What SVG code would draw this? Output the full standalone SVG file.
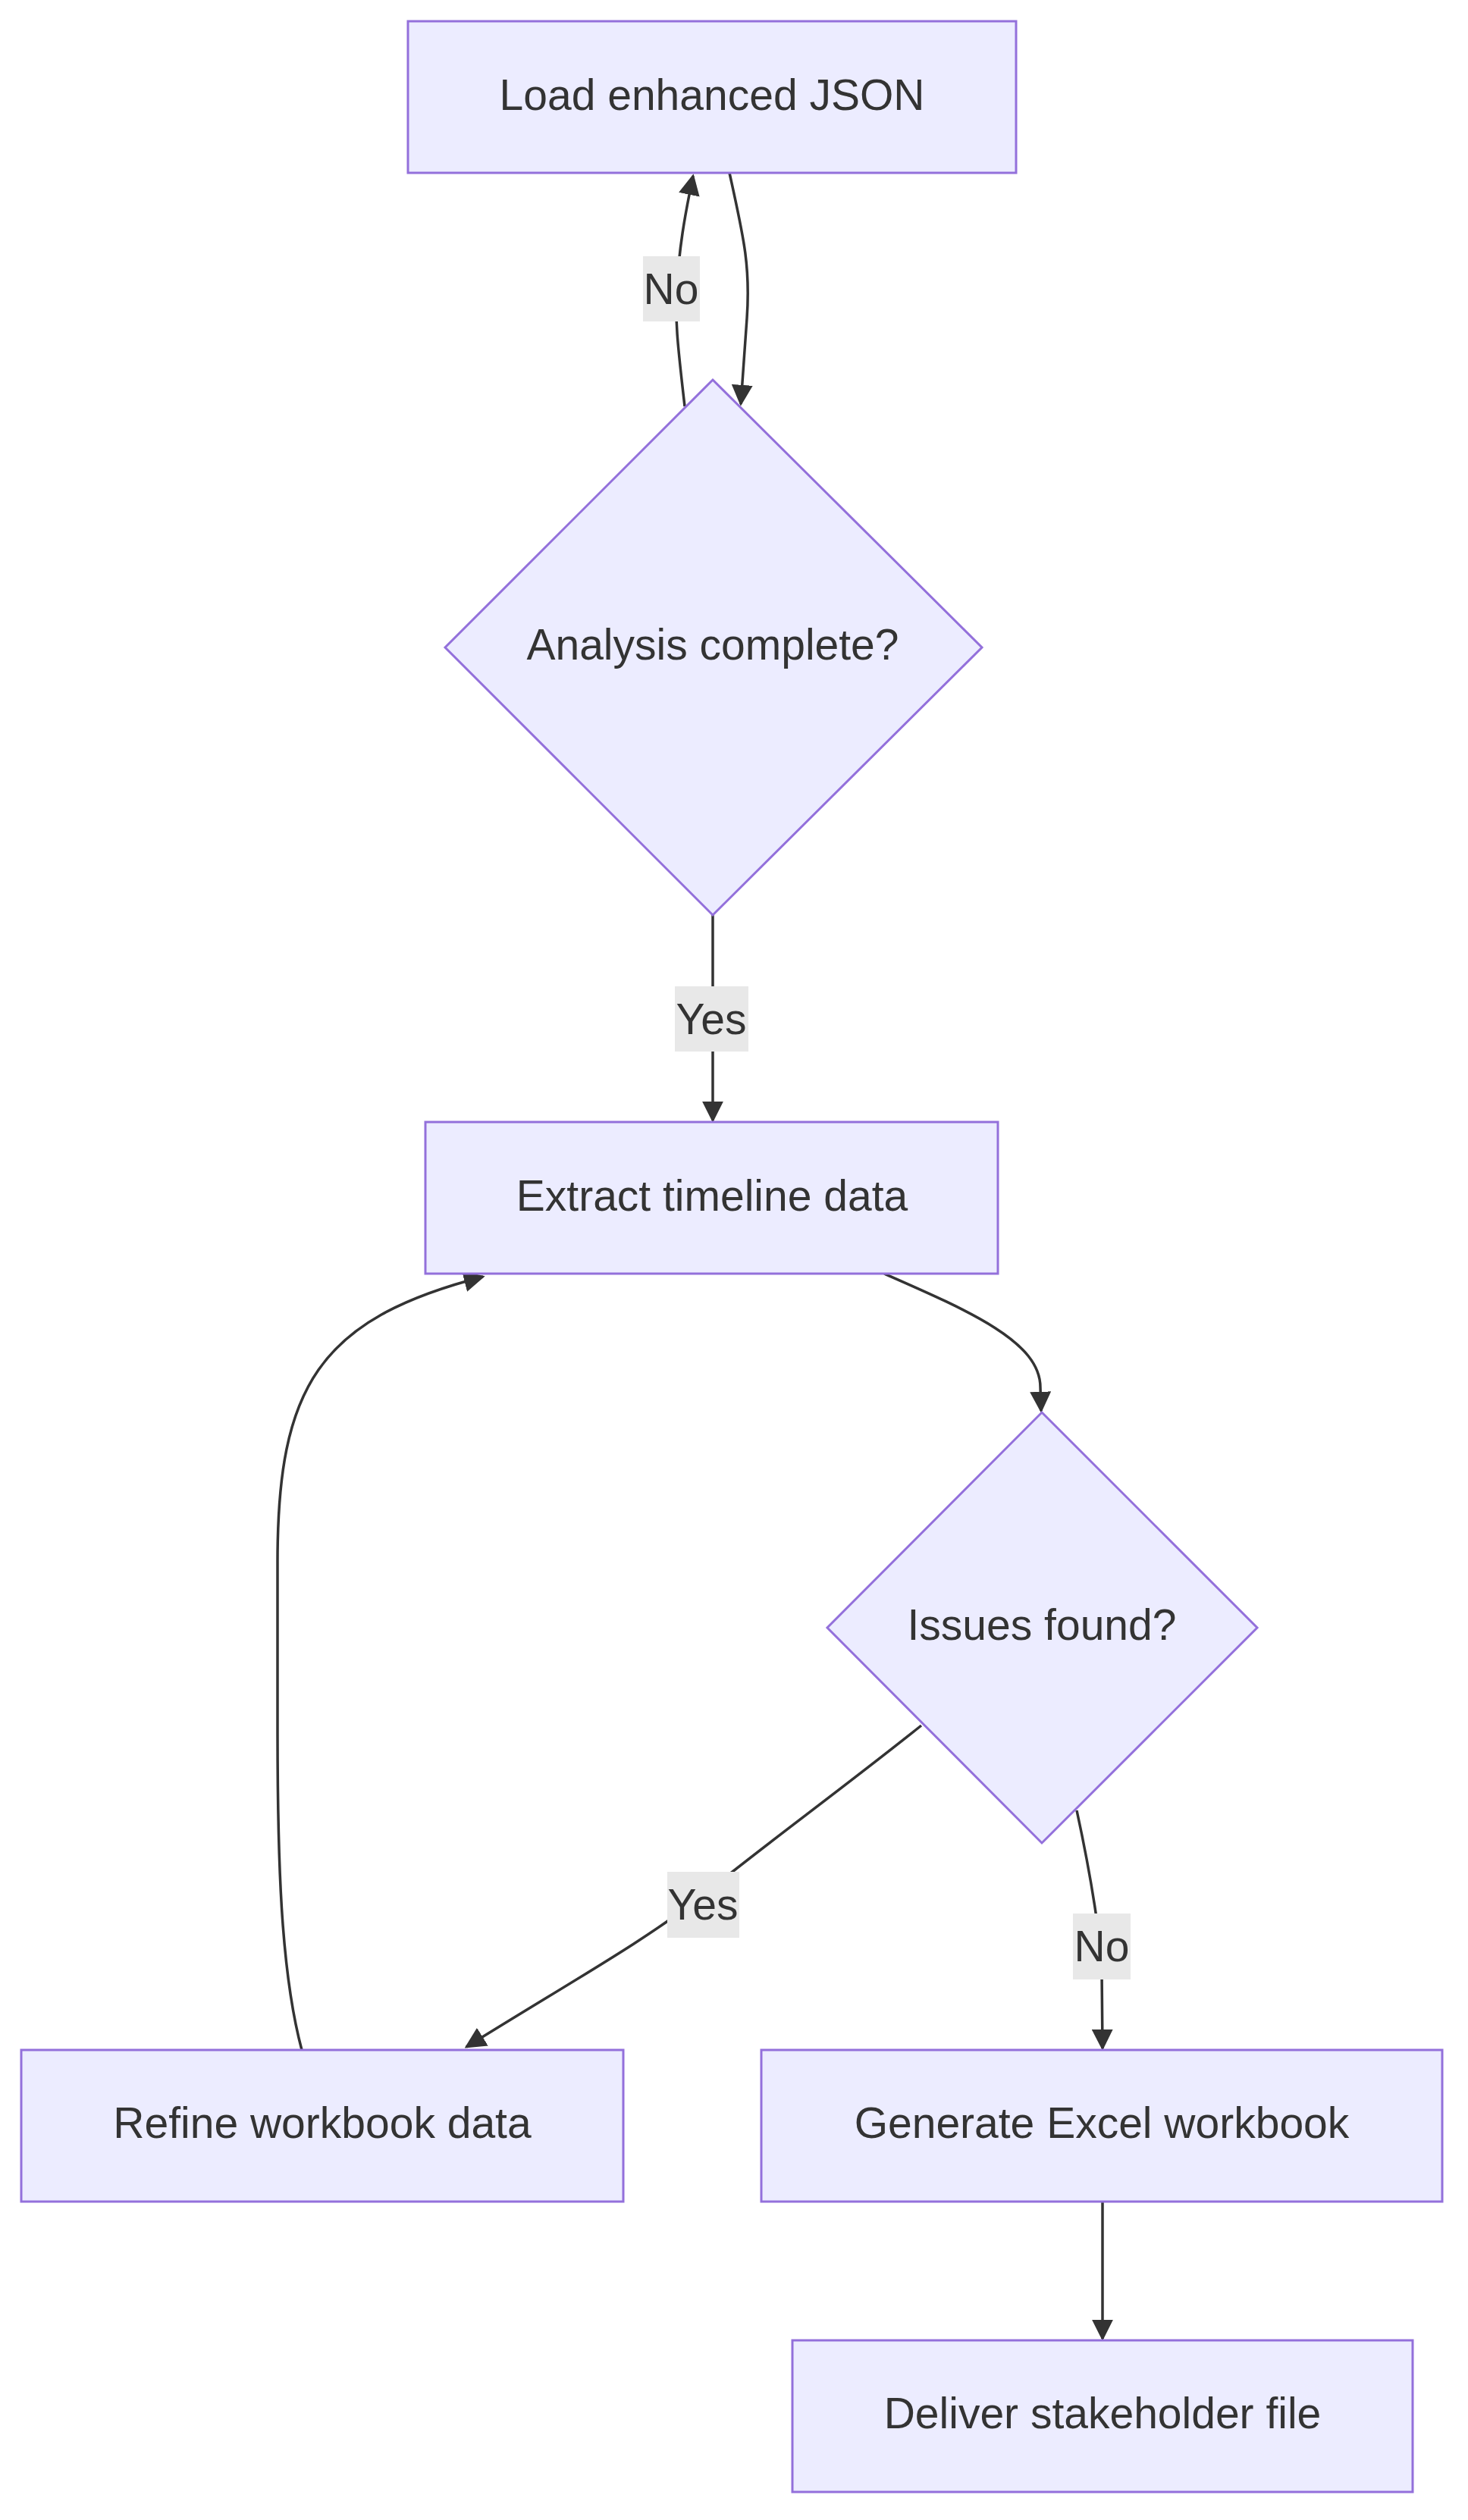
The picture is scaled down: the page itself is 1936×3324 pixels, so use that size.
<svg xmlns="http://www.w3.org/2000/svg" width="1936" height="3324" viewBox="0 0 1936 3324">
<style>
.n{fill:#ECECFF;stroke:#9370DB;stroke-width:3}
.t{font-family:"Liberation Sans",Arial,sans-serif;font-size:57px;fill:#333;text-anchor:middle;dominant-baseline:central}
.e{fill:none;stroke:#333;stroke-width:3.5}
.lb{fill:#e8e8e8}
</style>
<defs><marker id="a" viewBox="0 0 10 10" refX="9" refY="5" markerWidth="8" markerHeight="8" markerUnits="strokeWidth" orient="auto"><path d="M0,0L10,5L0,10z" fill="#333"/></marker></defs>
<rect width="1936" height="3324" fill="#fff"/>
<g id="edges">
<path class="e" d="M962,228 C980,310 990,350 985,420 L977,533" marker-end="url(#a)"/>
<path class="e" d="M903,536 C893,450 890,420 893,380 C895,330 903,285 914,232" marker-end="url(#a)"/>
<path class="e" d="M940,1207 L940,1478" marker-end="url(#a)"/>
<path class="e" d="M1166,1680 C1280,1730 1372,1770 1372,1830 L1373,1861" marker-end="url(#a)"/>
<path class="e" d="M1215,2276 C1110,2360 1000,2440 927,2500 C850,2560 760,2610 615,2700" marker-end="url(#a)"/>
<path class="e" d="M1420,2388 C1440,2480 1452,2560 1453,2600 L1454,2702" marker-end="url(#a)"/>
<path class="e" d="M398,2704 C370,2600 366,2450 366,2280 L366,2060 C366,1830 420,1740 637,1684" marker-end="url(#a)"/>
<path class="e" d="M1454,2904 L1454,3085" marker-end="url(#a)"/>
<rect class="lb" x="848" y="338" width="75" height="86"/><text class="t" x="885" y="381">No</text>
<rect class="lb" x="890" y="1301" width="97" height="86"/><text class="t" x="938" y="1344">Yes</text>
<rect class="lb" x="880" y="2469" width="95" height="87"/><text class="t" x="927" y="2512">Yes</text>
<rect class="lb" x="1415" y="2524" width="76" height="87"/><text class="t" x="1453" y="2567">No</text>
</g>
<g id="load"><rect class="n" x="538" y="28" width="802" height="200"/><text class="t" x="939" y="125">Load enhanced JSON</text></g>
<g id="analysis"><polygon class="n" points="940,501 1295,854 940,1207 587,854"/><text class="t" x="940" y="850">Analysis complete?</text></g>
<g id="extract"><rect class="n" x="561" y="1480" width="755" height="200"/><text class="t" x="939" y="1577">Extract timeline data</text></g>
<g id="issues"><polygon class="n" points="1374,1863 1658,2147 1374,2431 1091,2147"/><text class="t" x="1374" y="2143">Issues found?</text></g>
<g id="refine"><rect class="n" x="28" y="2704" width="794" height="200"/><text class="t" x="425" y="2800">Refine workbook data</text></g>
<g id="generate"><rect class="n" x="1004" y="2704" width="898" height="200"/><text class="t" x="1453" y="2800">Generate Excel workbook</text></g>
<g id="deliver"><rect class="n" x="1045" y="3087" width="818" height="200"/><text class="t" x="1454" y="3183">Deliver stakeholder file</text></g>
</svg>
